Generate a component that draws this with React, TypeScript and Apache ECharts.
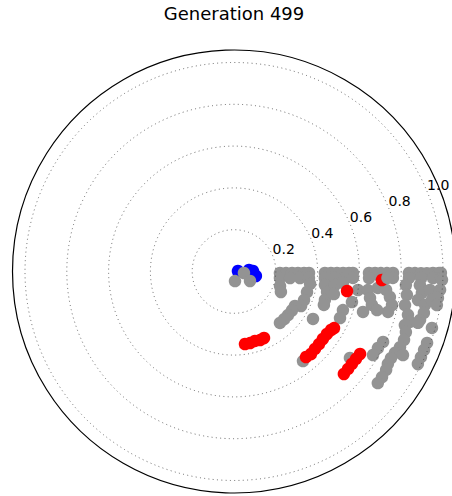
import React, { useEffect, useRef } from 'react';
import * as echarts from 'echarts';

const titleText = 'Generation 499';
const radialTicks = [0.2, 0.4, 0.6, 0.8, 1.0];

// [radius, angle in degrees, counter-clockwise from east]
const bluePoints: [number, number][] = [
  [0.019, 7], [0.072, 5.7], [0.091, 1.5], [0.107, -11.6],
];

const grayPoints: [number, number][] = [
  [0.048, -8.5], [0.046, -84], [0.089, -30.7],
  // first row
  [0.220, -1.9], [0.249, -1.7], [0.278, -1.5], [0.306, -1.3], [0.335, -1.2], [0.359, -1.1],
  [0.435, -0.9], [0.464, -0.9], [0.493, -0.8], [0.522, -0.8], [0.550, -0.7], [0.569, -0.7],
  [0.646, -0.6], [0.675, -0.6], [0.703, -0.6], [0.732, -0.6], [0.761, -0.5],
  [0.837, -0.5], [0.866, -0.5], [0.895, -0.5], [0.923, -0.5], [0.952, -0.4], [0.981, -0.4], [0.990, -0.4],
  // second row
  [0.222, -8.0], [0.270, -6.6], [0.317, -5.6], [0.360, -5.0],
  [0.436, -4.1], [0.484, -3.7], [0.532, -3.4], [0.570, -3.1],
  [0.647, -2.8], [0.704, -2.5], [0.761, -2.3],
  [0.838, -2.1], [0.896, -2.0], [0.953, -1.9], [0.991, -1.8],
  // group 1 lower
  [0.231, -17.5], [0.245, -23.6], [0.369, -9.3], [0.363, -15.7], [0.362, -22.2], [0.361, -27.2],
  [0.335, -29.5], [0.334, -34.0], [0.332, -38.9], [0.331, -43.5], [0.330, -48.2],
  [0.441, -31.0],
  // group 2 lower
  [0.440, -8.4], [0.456, -12.4], [0.456, -17.4], [0.459, -20.4], [0.488, -7.6], [0.490, -12.7], [0.524, -6.0],
  [0.583, -14.5], [0.553, -19.5], [0.554, -23.7], [0.647, -17.4],
  // group 3 lower
  [0.600, -8.5], [0.647, -7.9], [0.663, -11.0], [0.679, -13.6], [0.693, -6.5], [0.733, -6.9],
  [0.756, -9.3], [0.773, -12.0], [0.762, -14.7], [0.709, -15.1],
  // group 4 lower
  [0.825, -4.5], [0.835, -7.7], [0.834, -11.1], [0.858, -14.0], [0.876, -16.0],
  [0.892, -4.2], [0.905, -6.5], [0.891, -8.8], [0.928, -9.9], [0.930, -12.3], [0.920, -14.6],
  [0.942, -5.4], [0.957, -8.2],
  [0.996, -2.3], [0.990, -5.1], [0.984, -7.4], [0.984, -9.4],
  // outer streaks
  [0.914, -15.6], [0.985, -15.9],
  [0.789, -25.3], [0.780, -28.0], [0.776, -31.0],
  [0.857, -17.4], [0.872, -19.4], [0.877, -21.9], [0.873, -24.5], [0.863, -26.8], [0.858, -28.9],
  [0.859, -31.0], [0.867, -32.9], [0.870, -35.5], [0.871, -37.8], [0.902, -26.3],
  [0.985, -20.3], [0.984, -22.4], [0.984, -24.6], [0.985, -26.7],
  [0.541, -52.4], [0.692, -36.7],
];

const redPoints: [number, number][] = [
  [0.549, -9.8], [0.709, -3.3],
  [0.351, -81.4], [0.351, -77.4], [0.347, -73.2], [0.351, -69.2], [0.349, -65.7],
  [0.535, -49.9], [0.540, -47.0], [0.536, -43.7], [0.535, -40.5], [0.534, -37.2], [0.536, -33.9],
  [0.542, -31.1], [0.550, -29.5],
  [0.719, -43.0], [0.718, -40.5], [0.717, -38.1], [0.718, -35.6], [0.721, -33.2],
];

const grayFrontPoints: [number, number][] = [
  [0.735, -2.4],
];

const FONT = 'DejaVu Sans';

export default function App() {
  const ref = useRef<HTMLDivElement>(null);
  useEffect(() => {
    if (!ref.current) return;
    const chart = echarts.init(ref.current, null, { renderer: 'svg' });
    const scatter = (name: string, data: [number, number][], color: string) => ({
      name,
      type: 'scatter',
      coordinateSystem: 'polar',
      polarIndex: 0,
      symbol: 'circle',
      symbolSize: 12.5,
      data,
      itemStyle: { color, opacity: 1 },
      emphasis: { disabled: true },
      z: 2,
    });
    chart.setOption({
      animation: false,
      title: {
        text: titleText,
        left: 234,
        top: 4,
        textAlign: 'center',
        padding: 0,
        textStyle: { fontFamily: FONT, fontSize: 18, fontWeight: 'normal', color: '#000' },
      },
      polar: [
        { center: [234, 271.5], radius: 221.5 },
        { center: [234, 271.5], radius: 209 },
      ],
      angleAxis: [
        {
          polarIndex: 0, type: 'value', min: -180, max: 180, startAngle: 180, clockwise: false,
          axisLine: { show: true, lineStyle: { color: '#000', width: 1.2 } },
          axisTick: { show: false }, axisLabel: { show: false }, splitLine: { show: false },
        },
        {
          polarIndex: 1, type: 'value', min: 0, max: 360, startAngle: 22.5, clockwise: false,
          axisLine: { show: false }, axisTick: { show: false }, axisLabel: { show: false }, splitLine: { show: false },
        },
      ],
      radiusAxis: [
        {
          polarIndex: 0, type: 'value', min: 0, max: 1.06,
          axisLine: { show: false }, axisTick: { show: false }, axisLabel: { show: false }, splitLine: { show: false },
        },
        {
          polarIndex: 1, type: 'value', min: 0, max: 1, interval: 0.2, z: 5,
          axisLine: { show: false }, axisTick: { show: false },
          axisLabel: {
            show: true, margin: 0, align: 'left', verticalAlign: 'bottom',
            fontFamily: FONT, fontSize: 14, color: '#000',
            formatter: (v: number) => {
              const hit = radialTicks.find((t) => Math.abs(t - v) < 1e-6);
              return hit === undefined ? '' : hit.toFixed(1);
            },
          },
          splitLine: { show: true, lineStyle: { color: '#444', width: 0.8, type: [1, 3.3] } },
        },
      ],
      series: [
        scatter('blue', bluePoints, '#0000ff'),
        scatter('gray', grayPoints, '#939393'),
        scatter('red', redPoints, '#ff0000'),
        scatter('grayFront', grayFrontPoints, '#939393'),
      ],
    });
    return () => chart.dispose();
  }, []);
  return <div ref={ref} style={{ position: 'absolute', left: 0, top: 0, width: 452, height: 496 }} />;
}
